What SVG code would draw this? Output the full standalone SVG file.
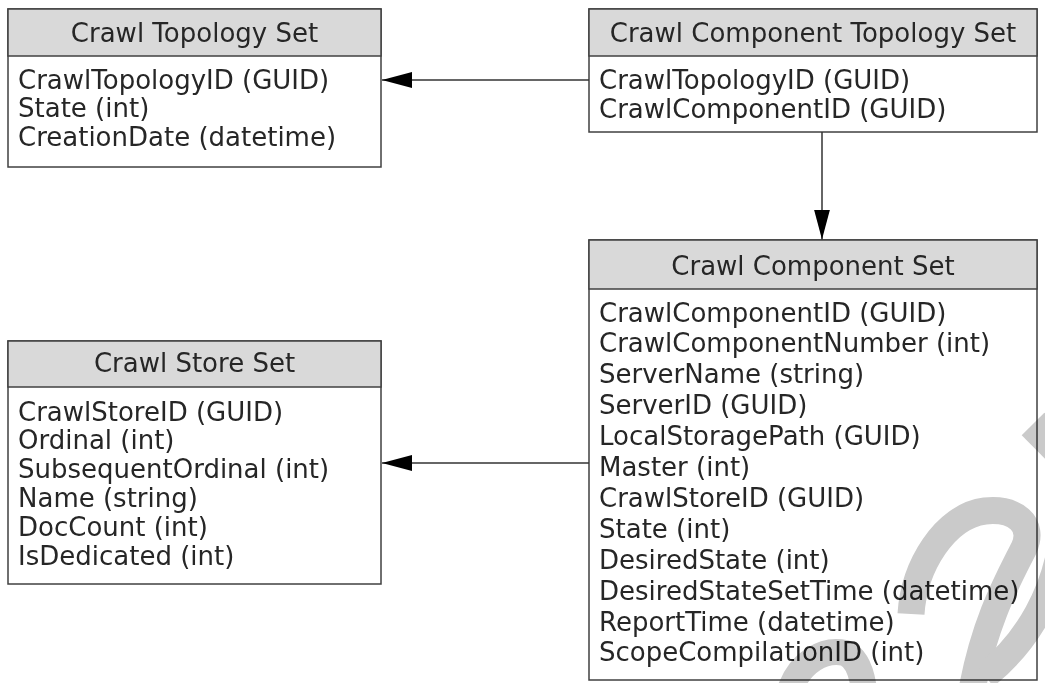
<svg xmlns="http://www.w3.org/2000/svg" width="1045" height="683" viewBox="0 0 1045 683">
  <defs>
    <style>
      .box { fill: #ffffff; stroke: #404040; stroke-width: 1.5; }
      .head { fill: #d9d9d9; stroke: #404040; stroke-width: 1.5; }
      .title { font-family: "DejaVu Sans", Verdana, sans-serif; font-size: 26px; fill: #262626; text-anchor: middle; }
      .field { font-family: "DejaVu Sans", Verdana, sans-serif; font-size: 26px; fill: #262626; }
      .link { fill: none; stroke: #333333; stroke-width: 1.5; }
      .mark { fill: none; stroke: #cacaca; }
      #watermark { mix-blend-mode: multiply; }
    </style>
    <marker id="arrow" viewBox="0 0 30 16" refX="30" refY="8" markerWidth="30" markerHeight="16" markerUnits="userSpaceOnUse" orient="auto">
      <path d="M0,0 L30,8 L0,16 Z" fill="#000000"/>
    </marker>
  </defs>

  <rect width="1045" height="683" fill="#ffffff"/>

  <!-- Crawl Topology Set -->
  <g id="crawl-topology-set">
    <rect class="box" x="8" y="9" width="373" height="158"/>
    <rect class="head" x="8" y="9" width="373" height="47"/>
    <text class="title" x="194.5" y="41.5">Crawl Topology Set</text>
    <text class="field" x="18" y="88.5">CrawlTopologyID (GUID)</text>
    <text class="field" x="18" y="117">State (int)</text>
    <text class="field" x="18" y="145.5">CreationDate (datetime)</text>
  </g>

  <!-- Crawl Component Topology Set -->
  <g id="crawl-component-topology-set">
    <rect class="box" x="589" y="9" width="448" height="123"/>
    <rect class="head" x="589" y="9" width="448" height="47"/>
    <text class="title" x="813" y="41.5">Crawl Component Topology Set</text>
    <text class="field" x="599" y="88.5">CrawlTopologyID (GUID)</text>
    <text class="field" x="599" y="117.5">CrawlComponentID (GUID)</text>
  </g>

  <!-- Crawl Component Set -->
  <g id="crawl-component-set">
    <rect class="box" x="589" y="240" width="448" height="440"/>
    <rect class="head" x="589" y="240" width="448" height="49"/>
    <text class="title" x="813" y="274.5">Crawl Component Set</text>
    <text class="field" x="599" y="321.5">CrawlComponentID (GUID)</text>
    <text class="field" x="599" y="352.4">CrawlComponentNumber (int)</text>
    <text class="field" x="599" y="383.3">ServerName (string)</text>
    <text class="field" x="599" y="414.2">ServerID (GUID)</text>
    <text class="field" x="599" y="445.1">LocalStoragePath (GUID)</text>
    <text class="field" x="599" y="476">Master (int)</text>
    <text class="field" x="599" y="506.9">CrawlStoreID (GUID)</text>
    <text class="field" x="599" y="537.8">State (int)</text>
    <text class="field" x="599" y="568.7">DesiredState (int)</text>
    <text class="field" x="599" y="599.6">DesiredStateSetTime (datetime)</text>
    <text class="field" x="599" y="630.5">ReportTime (datetime)</text>
    <text class="field" x="599" y="661.4">ScopeCompilationID (int)</text>
  </g>

  <!-- Crawl Store Set -->
  <g id="crawl-store-set">
    <rect class="box" x="8" y="341" width="373" height="243"/>
    <rect class="head" x="8" y="341" width="373" height="46"/>
    <text class="title" x="194.5" y="371.5">Crawl Store Set</text>
    <text class="field" x="18" y="420.5">CrawlStoreID (GUID)</text>
    <text class="field" x="18" y="449.3">Ordinal (int)</text>
    <text class="field" x="18" y="478.1">SubsequentOrdinal (int)</text>
    <text class="field" x="18" y="506.9">Name (string)</text>
    <text class="field" x="18" y="535.7">DocCount (int)</text>
    <text class="field" x="18" y="564.5">IsDedicated (int)</text>
  </g>

  <!-- Connectors -->
  <g id="connectors">
    <line class="link" x1="589" y1="80" x2="382" y2="80" marker-end="url(#arrow)"/>
    <line class="link" x1="822" y1="132" x2="822" y2="239.5" marker-end="url(#arrow)"/>
    <line class="link" x1="589" y1="463" x2="382" y2="463" marker-end="url(#arrow)"/>
  </g>

  <!-- Background watermark strokes, multiplied over the page as one layer -->
  <g id="watermark">
    <line class="mark" x1="1033" y1="424" x2="1100" y2="491" stroke-width="32"/>
    <path class="mark" d="M911,614 C914,566 945,516 985,511 C1015,508 1035,524 1024,548 C1008,580 985,620 972,690" stroke-width="27"/>
    <path class="mark" d="M1062,540 C1055,590 1030,640 985,676" stroke-width="27"/>
    <path class="mark" d="M790,690 C800,662 824,648 845,653 C857,658 862,674 864,690" stroke-width="26"/>
  </g>
</svg>
